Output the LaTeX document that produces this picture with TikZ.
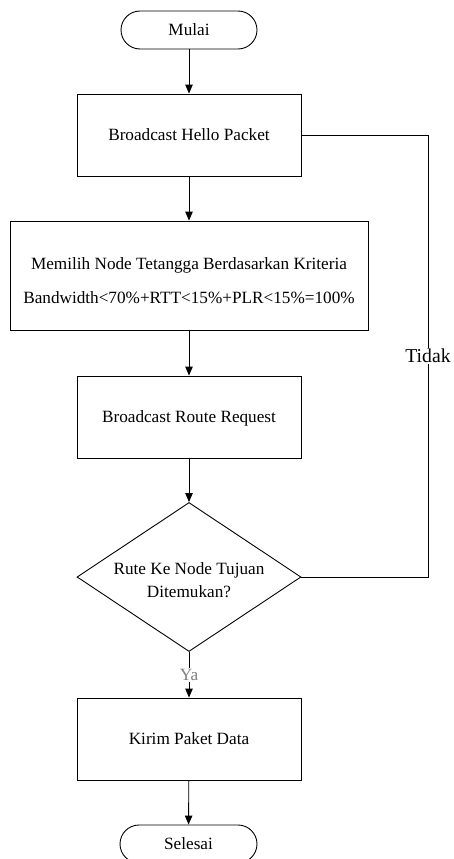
\documentclass[tikz,border=0pt]{standalone}
\usepackage{fontspec}
\setmainfont{Liberation Serif}
\usetikzlibrary{arrows.meta,shapes.geometric}
\begin{document}
\begin{tikzpicture}[x=1pt,y=-1pt,
  every node/.style={font=\fontsize{17.2}{20}\selectfont},
  proc/.style={draw, line width=0.9pt, minimum width=224pt, minimum height=82pt, inner sep=0pt, text depth=0pt},
  term/.style={draw, line width=0.9pt, rounded corners=19pt, minimum width=136pt, minimum height=38pt, inner sep=0pt, text depth=0pt},
  decision/.style={draw, diamond, line width=0.9pt, minimum width=224pt, minimum height=149pt, inner sep=0pt},
  flow/.style={line width=0.9pt, -{Triangle[length=9pt,width=7.5pt]}},
  link/.style={line width=0.9pt},
  tag/.style={fill=white, inner sep=1.5pt}
]
\useasboundingbox (0,0) rectangle (454,859);

% flowchart steps
\node[term] (start) at (189,30) {Mulai};
\node[proc] (hello) at (189,135) {Broadcast Hello Packet};
\node[proc, minimum width=358pt, minimum height=109pt] (pick) at (189,275.5) {};
\node[align=center, font=\fontsize{17.2}{34}\selectfont] (picktext) at ([yshift=-5pt]pick.center)
  {Memilih Node Tetangga Berdasarkan Kriteria\\Bandwidth<70\%+RTT<15\%+PLR<15\%=100\%};
\node[proc] (route) at (189,417) {Broadcast Route Request};
\node[decision] (dec) at (189,577) {};
\node[align=center, font=\fontsize{17.2}{23.4}\selectfont] (dectext) at (189,580)
  {Rute Ke Node Tujuan\\Ditemukan?};
\node[proc] (send) at (189,739) {Kirim Paket Data};
\node[term, minimum width=137pt] (stop) at (188.5,844) {Selesai};

% connectors
\draw[flow] (start) -- (hello);
\draw[flow] (hello) -- (pick);
\draw[flow] (pick) -- (route);
\draw[flow] (route) -- (dec);
\draw[flow] (dec) -- node[tag, text=black!50] (yes) {Ya} (send);
\draw[flow] (send) -- (stop);

% loop back when no route is found
\coordinate (loopbot) at (428,577);
\coordinate (looptop) at (428,135);
\draw[link] (dec.east) -- (loopbot)
  -- node[tag, font=\fontsize{19.7}{22}\selectfont] (no) {Tidak} (looptop)
  -- (hello.east);
\end{tikzpicture}
\end{document}
